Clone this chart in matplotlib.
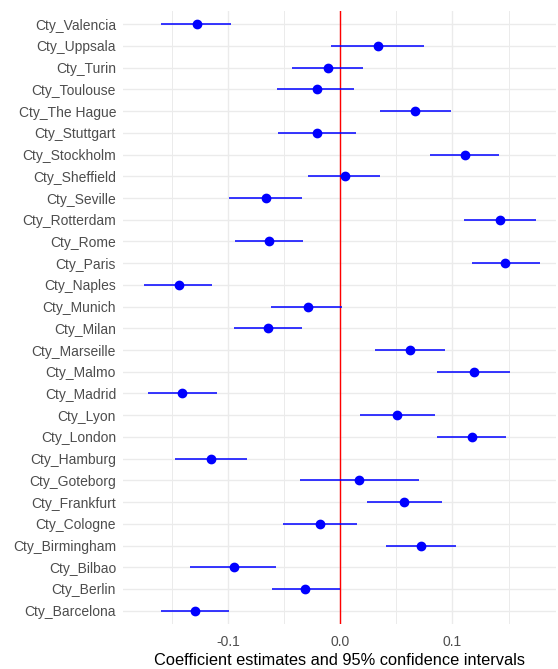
import numpy as np
import matplotlib.pyplot as plt
from matplotlib.ticker import MultipleLocator

plt.rcParams['font.family'] = ['Liberation Sans', 'DejaVu Sans']

# cities listed bottom to top as on the plot
cities = ['Cty_Barcelona', 'Cty_Berlin', 'Cty_Bilbao', 'Cty_Birmingham', 'Cty_Cologne',
          'Cty_Frankfurt', 'Cty_Goteborg', 'Cty_Hamburg', 'Cty_London', 'Cty_Lyon',
          'Cty_Madrid', 'Cty_Malmo', 'Cty_Marseille', 'Cty_Milan', 'Cty_Munich',
          'Cty_Naples', 'Cty_Paris', 'Cty_Rome', 'Cty_Rotterdam', 'Cty_Seville',
          'Cty_Sheffield', 'Cty_Stockholm', 'Cty_Stuttgart', 'Cty_The Hague',
          'Cty_Toulouse', 'Cty_Turin', 'Cty_Uppsala', 'Cty_Valencia']
estimate = [-0.129, -0.031, -0.095, 0.072, -0.018,
            0.057, 0.017, -0.115, 0.117, 0.051,
            -0.141, 0.119, 0.062, -0.064, -0.029,
            -0.144, 0.147, -0.063, 0.142, -0.066,
            0.004, 0.111, -0.021, 0.067,
            -0.021, -0.011, 0.034, -0.128]
lower = [-0.160, -0.061, -0.134, 0.041, -0.051,
         0.024, -0.036, -0.147, 0.086, 0.018,
         -0.171, 0.086, 0.031, -0.095, -0.062,
         -0.175, 0.117, -0.094, 0.110, -0.099,
         -0.029, 0.080, -0.055, 0.035,
         -0.056, -0.043, -0.008, -0.160]
upper = [-0.099, 0.000, -0.057, 0.103, 0.015,
         0.091, 0.070, -0.083, 0.148, 0.084,
         -0.110, 0.151, 0.093, -0.034, 0.002,
         -0.114, 0.178, -0.033, 0.174, -0.034,
         0.035, 0.141, 0.014, 0.099,
         0.012, 0.020, 0.075, -0.097]

y = np.arange(len(cities))
est = np.array(estimate)
lo = np.array(lower)
hi = np.array(upper)

fig = plt.figure(figsize=(5.58, 6.69), dpi=100)
ax = fig.add_axes([0.2204, 0.0677, 0.7766, 0.9155])

ax.hlines(y, lo, hi, color='#0000FF', lw=1.1, zorder=3)
ax.plot(est, y, 'o', color='#0000FF', ms=6, zorder=4)
ax.axvline(0, color='#FF0000', lw=1.0, zorder=2)

ax.set_xlim(-0.1935, 0.1925)
ax.set_ylim(-0.6, len(cities) - 0.4)
ax.set_yticks(y)
ax.set_yticklabels(cities)
ax.xaxis.set_minor_locator(MultipleLocator(0.05))
ax.set_xticks([-0.1, 0.0, 0.1])
ax.set_xticklabels(['-0.1', '0.0', '0.1'])

ax.grid(which='major', color='#EBEBEB', lw=1.0, zorder=0)
ax.grid(which='minor', axis='x', color='#EBEBEB', lw=0.7, zorder=0)
ax.set_axisbelow(True)
for s in ax.spines.values():
    s.set_visible(False)
ax.tick_params(which='both', length=0, labelsize=10, colors='#4D4D4D')
ax.tick_params(axis='x', pad=8)
ax.tick_params(axis='y', pad=5)

ax.set_xlabel('Coefficient estimates and 95% confidence intervals', fontsize=11.8,
              color='black', labelpad=3)

fig.savefig('out.png', dpi=100)
